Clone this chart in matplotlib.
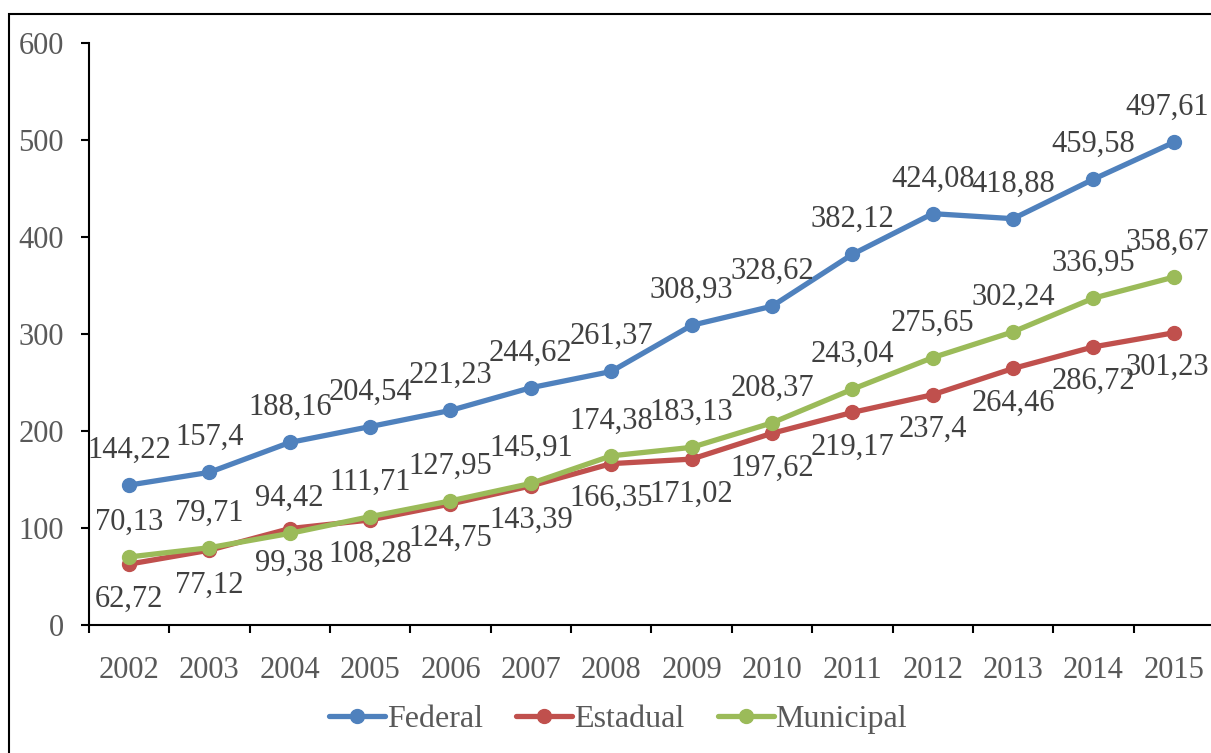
import matplotlib
matplotlib.use("Agg")
import matplotlib.pyplot as plt
from matplotlib.patches import Rectangle

years = ["2002", "2003", "2004", "2005", "2006", "2007", "2008", "2009",
         "2010", "2011", "2012", "2013", "2014", "2015"]
federal = [144.22, 157.4, 188.16, 204.54, 221.23, 244.62, 261.37, 308.93,
           328.62, 382.12, 424.08, 418.88, 459.58, 497.61]
estadual = [62.72, 77.12, 99.38, 108.28, 124.75, 143.39, 166.35, 171.02,
            197.62, 219.17, 237.4, 264.46, 286.72, 301.23]
municipal = [70.13, 79.71, 94.42, 111.71, 127.95, 145.91, 174.38, 183.13,
             208.37, 243.04, 275.65, 302.24, 336.95, 358.67]
yticks = [0, 100, 200, 300, 400, 500, 600]

plt.rcParams['font.family'] = ['Liberation Serif', 'DejaVu Serif']

W, H = 1211, 753
fig = plt.figure(figsize=(W / 100, H / 100), dpi=100)
ax = fig.add_axes([88.8 / W, 1 - 625 / H, (1214 - 88.8) / W, (625 - 43) / H])

series = [
    ("Federal", federal, "#4F81BD", "above"),
    ("Estadual", estadual, "#C0504D", "below"),
    ("Municipal", municipal, "#9BBB59", "above"),
]
x = list(range(len(years)))
handles = []
for name, vals, col, pos in series:
    ln, = ax.plot(x, vals, color=col, lw=3.8, marker='o', ms=10,
                  solid_capstyle='round', label=name)
    handles.append(ln)
    for xi, v in zip(x, vals):
        txt = ('%g' % v).replace('.', ',')
        off = 25 if pos == "above" else -25
        dx = -5 if xi == len(years) - 1 else 0
        ax.annotate(txt, (xi, v), xytext=(dx, off), textcoords='offset points',
                    ha='center', va='center', fontsize=22, color='#404040',
                    zorder=5)

ax.set_xlim(-0.5, len(years) - 0.5)
ax.set_ylim(0, 600)
ax.set_yticks(yticks)
ax.set_yticklabels([str(t) for t in yticks])
ax.set_xticks(x)
ax.set_xticklabels(years)
ax.set_xticks([i - 0.5 for i in range(len(years) + 1)], minor=True)
ax.tick_params(axis='x', which='major', length=0, pad=22, labelsize=22,
               labelcolor='#595959')
ax.tick_params(axis='x', which='minor', length=6, width=1.5, color='black',
               direction='out')
ax.tick_params(axis='y', length=6, width=1.5, pad=12, labelsize=22,
               labelcolor='#595959', color='black')
for s in ['top', 'right']:
    ax.spines[s].set_visible(False)
for s in ['left', 'bottom']:
    ax.spines[s].set_linewidth(1.5)
    ax.spines[s].set_color('black')
ax.patch.set_alpha(0)

leg = fig.legend(handles=handles, loc='center', bbox_to_anchor=(618 / W, 1 - 719 / H),
                 ncol=3, frameon=False, fontsize=23, handlelength=1.75,
                 handletextpad=0.05, columnspacing=1.05, labelcolor='#595959')

fig.patches.append(Rectangle((9 / W, -0.1), 1.2, 1 - 14 / H + 0.1,
                             transform=fig.transFigure, fill=False,
                             edgecolor='black', lw=1.5, zorder=10))

fig.savefig("out.png", dpi=100)
